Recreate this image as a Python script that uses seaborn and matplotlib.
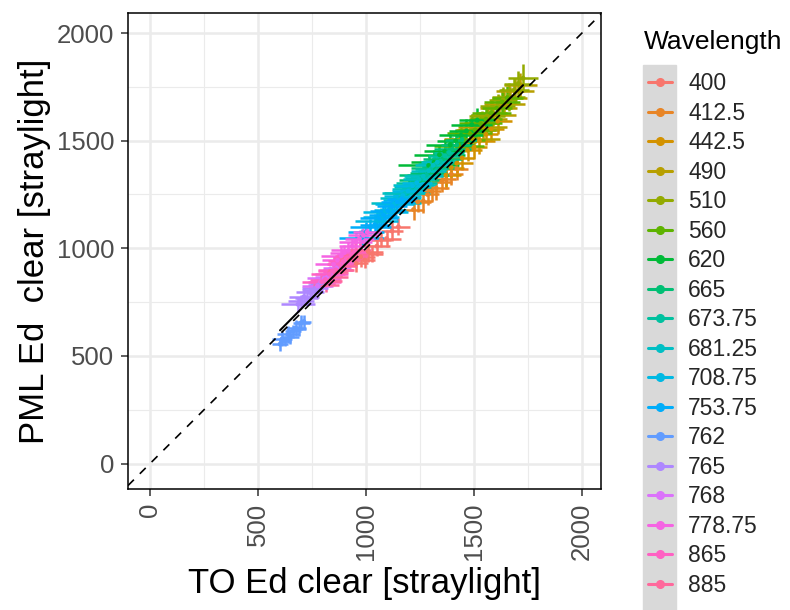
import numpy as np
import pandas as pd
import matplotlib
matplotlib.use("Agg")
import matplotlib.pyplot as plt
from matplotlib.lines import Line2D
from matplotlib.patches import Rectangle
import seaborn as sns

# ---- data: TO vs PML downwelling irradiance (clear sky, straylight corrected) ----
wavelengths = ["400", "412.5", "442.5", "490", "510", "560", "620", "665", "673.75",
               "681.25", "708.75", "753.75", "762", "765", "768", "778.75", "865", "885"]

to_400 = [955, 975, 995, 1010, 1030, 1050, 1070, 1095, 1120, 1150]
pml_400 = [930, 960, 945, 985, 975, 1010, 1040, 1045, 1080, 1100]
to_sd_400 = [55, 65, 45, 70, 50, 60, 45, 65, 50, 55]
pml_sd_400 = [40, 45, 35, 50, 40, 45, 35, 40, 45, 40]

to_412 = [1220, 1240, 1265, 1285, 1305, 1325, 1350, 1370, 1395, 1420]
pml_412 = [1180, 1215, 1220, 1250, 1265, 1280, 1310, 1320, 1345, 1370]
to_sd_412 = [50, 60, 45, 55, 40, 60, 50, 45, 55, 50]
pml_sd_412 = [50, 45, 55, 50, 45, 55, 50, 45, 50, 55]

to_442 = [1370, 1395, 1420, 1445, 1470, 1500, 1525, 1555, 1580, 1610]
pml_442 = [1340, 1375, 1395, 1420, 1455, 1470, 1500, 1530, 1555, 1590]
to_sd_442 = [70, 60, 75, 55, 65, 60, 70, 55, 60, 65]
pml_sd_442 = [55, 50, 60, 55, 50, 55, 60, 50, 55, 60]

to_490 = [1490, 1515, 1540, 1565, 1590, 1615, 1640, 1665, 1690, 1715]
pml_490 = [1510, 1550, 1565, 1600, 1620, 1650, 1670, 1700, 1730, 1760]
to_sd_490 = [130, 100, 115, 90, 105, 85, 95, 80, 90, 75]
pml_sd_490 = [55, 50, 60, 55, 50, 60, 55, 50, 60, 55]

to_510 = [1510, 1535, 1560, 1585, 1610, 1635, 1660, 1685, 1705, 1727]
pml_510 = [1550, 1580, 1615, 1630, 1660, 1690, 1705, 1735, 1765, 1790]
to_sd_510 = [90, 80, 85, 70, 80, 65, 75, 70, 65, 70]
pml_sd_510 = [55, 60, 50, 65, 55, 60, 65, 55, 60, 65]

to_560 = [1430, 1455, 1480, 1505, 1530, 1555, 1580, 1605, 1630, 1655]
pml_560 = [1475, 1505, 1535, 1550, 1580, 1600, 1630, 1650, 1680, 1700]
to_sd_560 = [115, 95, 105, 80, 100, 75, 90, 70, 85, 70]
pml_sd_560 = [60, 55, 65, 60, 55, 65, 60, 55, 60, 55]

to_620 = [1290, 1315, 1340, 1365, 1390, 1415, 1440, 1465, 1490, 1515]
pml_620 = [1385, 1400, 1435, 1450, 1480, 1500, 1525, 1545, 1575, 1595]
to_sd_620 = [140, 105, 120, 95, 110, 85, 100, 80, 95, 85]
pml_sd_620 = [50, 55, 45, 60, 50, 55, 50, 55, 50, 55]

to_665 = [1250, 1270, 1290, 1310, 1335, 1355, 1380, 1400, 1420, 1445]
pml_665 = [1315, 1340, 1350, 1375, 1400, 1415, 1445, 1460, 1480, 1505]
to_sd_665 = [95, 115, 85, 100, 75, 90, 70, 85, 75, 80]
pml_sd_665 = [50, 45, 55, 45, 50, 45, 50, 55, 50, 45]

to_673 = [1190, 1215, 1235, 1255, 1280, 1300, 1320, 1345, 1365, 1385]
pml_673 = [1255, 1285, 1305, 1325, 1340, 1370, 1390, 1405, 1430, 1445]
to_sd_673 = [105, 85, 95, 75, 90, 75, 80, 70, 80, 70]
pml_sd_673 = [45, 50, 40, 45, 50, 45, 40, 45, 50, 45]

to_681 = [1140, 1160, 1180, 1200, 1225, 1245, 1265, 1290, 1310, 1330]
pml_681 = [1210, 1235, 1255, 1275, 1295, 1320, 1335, 1360, 1385, 1400]
to_sd_681 = [115, 95, 105, 80, 100, 75, 90, 80, 85, 75]
pml_sd_681 = [45, 40, 50, 45, 40, 45, 50, 45, 40, 45]

to_708 = [1050, 1070, 1090, 1110, 1130, 1150, 1170, 1195, 1215, 1235]
pml_708 = [1125, 1145, 1170, 1180, 1205, 1225, 1245, 1265, 1290, 1305]
to_sd_708 = [100, 85, 105, 75, 90, 70, 85, 75, 80, 70]
pml_sd_708 = [45, 40, 50, 40, 45, 40, 45, 40, 45, 40]

to_753 = [980, 1000, 1020, 1040, 1060, 1080, 1100, 1120, 1145, 1165]
pml_753 = [1050, 1075, 1100, 1110, 1140, 1155, 1175, 1195, 1215, 1230]
to_sd_753 = [105, 85, 95, 70, 90, 65, 80, 70, 75, 70]
pml_sd_753 = [40, 45, 35, 50, 40, 45, 35, 40, 45, 40]

to_762 = [602, 612, 625, 638, 650, 662, 675, 688, 700, 712]
pml_762 = [555, 580, 570, 600, 590, 615, 630, 625, 655, 660]
to_sd_762 = [35, 45, 30, 50, 40, 35, 45, 35, 40, 35]
pml_sd_762 = [30, 35, 25, 40, 35, 30, 35, 30, 35, 30]

to_765 = [685, 698, 712, 725, 740, 752, 765, 780, 795, 810]
pml_765 = [740, 755, 775, 770, 795, 805, 815, 830, 840, 855]
to_sd_765 = [80, 60, 70, 55, 65, 50, 60, 50, 55, 50]
pml_sd_765 = [35, 30, 40, 35, 30, 35, 40, 35, 30, 35]

to_768 = [775, 790, 805, 820, 835, 850, 865, 880, 895, 910]
pml_768 = [825, 845, 860, 865, 880, 900, 910, 925, 935, 950]
to_sd_768 = [70, 60, 80, 55, 70, 50, 65, 55, 60, 55]
pml_sd_768 = [35, 40, 35, 30, 40, 35, 35, 40, 35, 35]

to_778 = [850, 868, 885, 900, 918, 935, 952, 970, 988, 1005]
pml_778 = [925, 945, 965, 980, 990, 1010, 1030, 1045, 1060, 1075]
to_sd_778 = [85, 70, 95, 65, 80, 60, 75, 65, 70, 65]
pml_sd_778 = [40, 35, 45, 35, 40, 35, 45, 40, 35, 40]

to_865 = [795, 812, 830, 845, 860, 878, 895, 912, 930, 948]
pml_865 = [845, 855, 880, 895, 900, 925, 940, 955, 965, 985]
to_sd_865 = [90, 70, 85, 65, 80, 60, 70, 65, 75, 60]
pml_sd_865 = [35, 40, 35, 45, 35, 40, 35, 40, 35, 40]

to_885 = [815, 832, 850, 868, 885, 902, 920, 938, 955, 972]
pml_885 = [830, 850, 865, 890, 900, 920, 945, 955, 970, 990]
to_sd_885 = [60, 55, 65, 50, 60, 55, 50, 60, 55, 50]
pml_sd_885 = [35, 30, 35, 40, 35, 30, 35, 35, 30, 35]

# linear fit of PML on TO
fit_slope = 1.012
fit_intercept = 10.0

series = [
    ("400", to_400, pml_400, to_sd_400, pml_sd_400),
    ("412.5", to_412, pml_412, to_sd_412, pml_sd_412),
    ("442.5", to_442, pml_442, to_sd_442, pml_sd_442),
    ("490", to_490, pml_490, to_sd_490, pml_sd_490),
    ("510", to_510, pml_510, to_sd_510, pml_sd_510),
    ("560", to_560, pml_560, to_sd_560, pml_sd_560),
    ("620", to_620, pml_620, to_sd_620, pml_sd_620),
    ("665", to_665, pml_665, to_sd_665, pml_sd_665),
    ("673.75", to_673, pml_673, to_sd_673, pml_sd_673),
    ("681.25", to_681, pml_681, to_sd_681, pml_sd_681),
    ("708.75", to_708, pml_708, to_sd_708, pml_sd_708),
    ("753.75", to_753, pml_753, to_sd_753, pml_sd_753),
    ("762", to_762, pml_762, to_sd_762, pml_sd_762),
    ("765", to_765, pml_765, to_sd_765, pml_sd_765),
    ("768", to_768, pml_768, to_sd_768, pml_sd_768),
    ("778.75", to_778, pml_778, to_sd_778, pml_sd_778),
    ("865", to_865, pml_865, to_sd_865, pml_sd_865),
    ("885", to_885, pml_885, to_sd_885, pml_sd_885),
]

df = pd.concat(
    [pd.DataFrame({"wl": w, "to": t, "pml": p, "to_sd": ts, "pml_sd": ps})
     for w, t, p, ts, ps in series],
    ignore_index=True,
)
df["wl"] = pd.Categorical(df["wl"], categories=wavelengths, ordered=True)


def hue_palette(n, h0=15.0, c=100.0, l=65.0):
    """Evenly spaced HCL hues (polar CIE-Luv) converted to sRGB hex."""
    Xn, Yn, Zn = 0.95047, 1.0, 1.08883
    den = Xn + 15 * Yn + 3 * Zn
    un, vn = 4 * Xn / den, 9 * Yn / den
    M = np.array([[3.2404542, -1.5371385, -0.4985314],
                  [-0.9692660, 1.8760108, 0.0415560],
                  [0.0556434, -0.2040259, 1.0572252]])
    out = []
    for h in np.linspace(h0, h0 + 360, n + 1)[:-1]:
        u = c * np.cos(np.radians(h))
        v = c * np.sin(np.radians(h))
        Y = Yn * ((l + 16) / 116) ** 3
        up = u / (13 * l) + un
        vp = v / (13 * l) + vn
        X = Y * 9 * up / (4 * vp)
        Z = Y * (12 - 3 * up - 20 * vp) / (4 * vp)
        lin = M @ np.array([X, Y, Z])
        rgb = np.where(lin <= 0.0031308, 12.92 * lin,
                       1.055 * np.clip(lin, 0, None) ** (1 / 2.4) - 0.055)
        rgb = np.clip(rgb, 0, 1)
        out.append("#%02X%02X%02X" % tuple(int(round(x * 255)) for x in rgb))
    return out


palette = hue_palette(len(wavelengths))
colors = dict(zip(wavelengths, palette))

# ---- figure ----
sns.set_theme(style="white")
plt.rcParams["font.family"] = ["Liberation Sans", "DejaVu Sans"]

W, H = 790, 610
fig = plt.figure(figsize=(W / 100, H / 100), dpi=100)
ax = fig.add_axes([128 / W, 1 - 489 / H, 473 / W, 476 / H])

ax.set_xlim(-102, 2088)
ax.set_ylim(-118, 2093)

# grid
for v in [250, 750, 1250, 1750]:
    ax.axvline(v, color="#EBEBEB", lw=0.8, zorder=0)
    ax.axhline(v, color="#EBEBEB", lw=0.8, zorder=0)
for v in [0, 500, 1000, 1500, 2000]:
    ax.axvline(v, color="#EBEBEB", lw=1.8, zorder=0)
    ax.axhline(v, color="#EBEBEB", lw=1.8, zorder=0)

# error crosses
for w, t, p, ts, ps in series:
    ax.errorbar(t, p, yerr=ps, fmt="none", ecolor=colors[w], elinewidth=1.8,
                capsize=0, zorder=2)
for w, t, p, ts, ps in series:
    ax.errorbar(t, p, xerr=ts, fmt="none", ecolor=colors[w], elinewidth=1.8,
                capsize=0, zorder=2)

sns.scatterplot(data=df, x="to", y="pml", hue="wl", palette=palette, s=12,
                linewidth=0, legend=False, ax=ax, zorder=3)

# 1:1 reference and fitted line
ax.axline((0, 0), slope=1, color="black", lw=1.2, dashes=(5.0, 5.0), zorder=4)
xfit = np.array([df["to"].min(), df["to"].max()])
sns.lineplot(x=xfit, y=fit_intercept + fit_slope * xfit, color="black", lw=1.5,
             ax=ax, zorder=5)

ticks = [0, 500, 1000, 1500, 2000]
ax.set_xticks(ticks)
ax.set_yticks(ticks)
ax.set_xticklabels([str(t) for t in ticks], rotation=90)
ax.tick_params(axis="both", which="major", labelsize=18.5, labelcolor="#4D4D4D",
               color="#333333", length=5, width=1.1, direction="out",
               bottom=True, left=True, pad=5)
for s in ax.spines.values():
    s.set_color("black")
    s.set_linewidth(1.1)

ax.set_xlabel("TO Ed clear [straylight]", fontsize=25, color="black", labelpad=5)
ax.set_ylabel("PML Ed  clear [straylight]", fontsize=25, color="black", labelpad=4)

# legend: grey key column, title, keys
fig.patches.append(Rectangle((643 / W, 0), 33 / W, 1 - 65 / H,
                             transform=fig.transFigure, color="#D9D9D9",
                             zorder=0))
fig.text(644 / W, 1 - 42 / H, "Wavelength", fontsize=19, ha="left",
         va="center", color="black")
handles = [Line2D([], [], color=colors[w], lw=2.2, marker="o", markersize=5.5)
           for w in wavelengths]
leg = fig.legend(handles, wavelengths, loc="upper left",
                 bbox_to_anchor=(648 / W, 1 - 72 / H), frameon=False,
                 fontsize=16.5, handlelength=1.05, handletextpad=0.7,
                 labelspacing=0.285, borderpad=0, borderaxespad=0)

fig.savefig("out.png", dpi=100)
